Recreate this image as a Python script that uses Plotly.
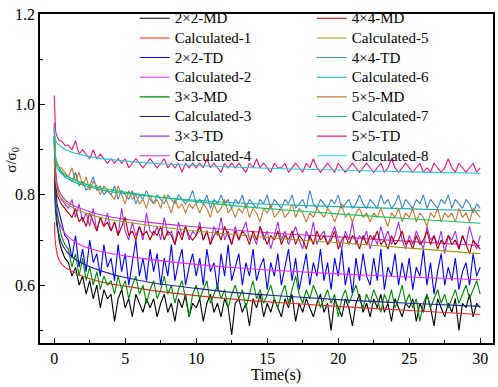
import plotly.graph_objects as go

# ---- time axis (s) ----
t_early = [0, 0.05, 0.1, 0.2, 0.35, 0.5, 0.75]
time = t_early + [1 + 0.25 * i for i in range(117)]  # 1.0 ... 30.0

# ---- measured relaxation curves (sigma/sigma0) ----
md_2x2 = [0.93, 0.86, 0.80, 0.74, 0.70, 0.68, 0.66,
          0.65, 0.62, 0.64, 0.60, 0.62, 0.58, 0.61, 0.57, 0.60, 0.55, 0.59, 0.57,
          0.58, 0.52, 0.57, 0.59, 0.55, 0.57, 0.53, 0.58, 0.56, 0.54, 0.57, 0.55,
          0.57, 0.53, 0.56, 0.58, 0.54, 0.56, 0.52, 0.57, 0.55, 0.58, 0.53, 0.56,
          0.55, 0.57, 0.52, 0.56, 0.58, 0.54, 0.56, 0.53, 0.57, 0.55, 0.49, 0.56,
          0.57, 0.54, 0.56, 0.51, 0.57, 0.55, 0.58, 0.53, 0.56, 0.54, 0.57, 0.55,
          0.53, 0.57, 0.55, 0.58, 0.52, 0.56, 0.54, 0.57, 0.55, 0.53, 0.56, 0.58,
          0.54, 0.56, 0.50, 0.57, 0.55, 0.53, 0.57, 0.55, 0.51, 0.56, 0.58, 0.54,
          0.56, 0.53, 0.57, 0.55, 0.58, 0.54, 0.56, 0.52, 0.57, 0.55, 0.53, 0.56,
          0.55, 0.57, 0.52, 0.56, 0.54, 0.58, 0.55, 0.51, 0.57, 0.55, 0.53, 0.56,
          0.54, 0.57, 0.50, 0.56, 0.55, 0.58, 0.53, 0.56, 0.55]
td_2x2 = [0.95, 0.88, 0.82, 0.78, 0.76, 0.74, 0.71,
          0.70, 0.66, 0.71, 0.64, 0.68, 0.63, 0.70, 0.65, 0.67, 0.62, 0.69, 0.64,
          0.66, 0.61, 0.69, 0.63, 0.67, 0.60, 0.65, 0.70, 0.62, 0.66, 0.61, 0.68,
          0.63, 0.67, 0.60, 0.66, 0.62, 0.69, 0.61, 0.65, 0.68, 0.60, 0.64, 0.67,
          0.62, 0.66, 0.60, 0.68, 0.63, 0.65, 0.59, 0.67, 0.62, 0.69, 0.61, 0.64,
          0.67, 0.60, 0.65, 0.62, 0.68, 0.61, 0.64, 0.66, 0.59, 0.65, 0.62, 0.67,
          0.60, 0.64, 0.68, 0.61, 0.66, 0.59, 0.63, 0.67, 0.60, 0.65, 0.62, 0.68,
          0.61, 0.65, 0.59, 0.66, 0.62, 0.68, 0.60, 0.64, 0.58, 0.66, 0.61, 0.67,
          0.62, 0.60, 0.66, 0.61, 0.68, 0.59, 0.64, 0.62, 0.67, 0.60, 0.65, 0.61,
          0.66, 0.59, 0.64, 0.62, 0.68, 0.60, 0.65, 0.58, 0.63, 0.67, 0.60, 0.64,
          0.61, 0.66, 0.59, 0.63, 0.65, 0.60, 0.67, 0.62, 0.64]
md_3x3 = [0.92, 0.85, 0.80, 0.76, 0.73, 0.71, 0.69,
          0.68, 0.64, 0.67, 0.62, 0.66, 0.61, 0.64, 0.60, 0.63, 0.59, 0.62, 0.60,
          0.61, 0.58, 0.62, 0.59, 0.61, 0.57, 0.60, 0.62, 0.58, 0.60, 0.56, 0.59,
          0.61, 0.57, 0.59, 0.62, 0.58, 0.60, 0.56, 0.59, 0.61, 0.57, 0.53, 0.58,
          0.60, 0.57, 0.59, 0.61, 0.56, 0.58, 0.60, 0.57, 0.59, 0.55, 0.58, 0.60,
          0.57, 0.59, 0.55, 0.58, 0.61, 0.57, 0.59, 0.56, 0.58, 0.60, 0.57, 0.55,
          0.58, 0.60, 0.56, 0.59, 0.62, 0.58, 0.56, 0.59, 0.57, 0.60, 0.58, 0.55,
          0.57, 0.59, 0.56, 0.58, 0.53, 0.57, 0.59, 0.56, 0.58, 0.60, 0.57, 0.55,
          0.58, 0.56, 0.59, 0.57, 0.54, 0.58, 0.56, 0.59, 0.55, 0.57, 0.60, 0.56,
          0.58, 0.55, 0.57, 0.52, 0.56, 0.58, 0.55, 0.57, 0.59, 0.56, 0.58, 0.55,
          0.57, 0.59, 0.56, 0.58, 0.60, 0.57, 0.59, 0.61, 0.58]
td_3x3 = [0.96, 0.90, 0.86, 0.82, 0.80, 0.79, 0.78,
          0.77, 0.79, 0.75, 0.78, 0.74, 0.76, 0.73, 0.77, 0.72, 0.75, 0.73, 0.76,
          0.72, 0.74, 0.71, 0.77, 0.72, 0.70, 0.74, 0.71, 0.73, 0.70, 0.76, 0.72,
          0.71, 0.73, 0.70, 0.75, 0.71, 0.72, 0.69, 0.74, 0.71, 0.73, 0.70, 0.72,
          0.71, 0.74, 0.70, 0.72, 0.69, 0.73, 0.71, 0.75, 0.70, 0.72, 0.69, 0.73,
          0.70, 0.72, 0.74, 0.70, 0.71, 0.69, 0.73, 0.70, 0.72, 0.68, 0.71, 0.74,
          0.70, 0.72, 0.69, 0.71, 0.73, 0.70, 0.68, 0.72, 0.70, 0.74, 0.69, 0.71,
          0.72, 0.69, 0.71, 0.73, 0.70, 0.68, 0.72, 0.70, 0.74, 0.69, 0.71, 0.70,
          0.72, 0.68, 0.71, 0.69, 0.73, 0.70, 0.72, 0.69, 0.71, 0.74, 0.70, 0.68,
          0.71, 0.69, 0.72, 0.70, 0.68, 0.73, 0.70, 0.71, 0.69, 0.72, 0.67, 0.71,
          0.70, 0.72, 0.68, 0.71, 0.69, 0.73, 0.70, 0.68, 0.71]
md_4x4 = [0.88, 0.84, 0.82, 0.80, 0.79, 0.78, 0.77,
          0.76, 0.75, 0.77, 0.74, 0.75, 0.73, 0.76, 0.74, 0.72, 0.75, 0.73, 0.74,
          0.72, 0.74, 0.71, 0.73, 0.75, 0.71, 0.72, 0.70, 0.73, 0.71, 0.72, 0.70,
          0.72, 0.71, 0.73, 0.70, 0.72, 0.71, 0.69, 0.72, 0.70, 0.73, 0.71, 0.70,
          0.71, 0.73, 0.70, 0.72, 0.69, 0.71, 0.72, 0.70, 0.73, 0.71, 0.69, 0.72,
          0.70, 0.72, 0.71, 0.69, 0.72, 0.70, 0.73, 0.71, 0.69, 0.71, 0.70, 0.72,
          0.69, 0.71, 0.70, 0.72, 0.69, 0.71, 0.70, 0.68, 0.71, 0.69, 0.72, 0.70,
          0.71, 0.69, 0.70, 0.72, 0.68, 0.70, 0.71, 0.69, 0.71, 0.70, 0.68, 0.71,
          0.69, 0.71, 0.70, 0.72, 0.69, 0.70, 0.68, 0.71, 0.69, 0.70, 0.72, 0.69,
          0.70, 0.68, 0.71, 0.69, 0.70, 0.72, 0.69, 0.71, 0.68, 0.70, 0.69, 0.71,
          0.69, 0.70, 0.68, 0.71, 0.69, 0.67, 0.70, 0.69, 0.68]
td_4x4 = [0.93, 0.90, 0.88, 0.87, 0.86, 0.85, 0.84,
          0.84, 0.83, 0.85, 0.82, 0.83, 0.81, 0.82, 0.84, 0.81, 0.82, 0.80, 0.81,
          0.80, 0.82, 0.79, 0.81, 0.80, 0.79, 0.81, 0.78, 0.80, 0.79, 0.81, 0.79,
          0.78, 0.80, 0.79, 0.78, 0.80, 0.79, 0.78, 0.80, 0.79, 0.78, 0.79, 0.81,
          0.78, 0.79, 0.78, 0.80, 0.77, 0.79, 0.78, 0.80, 0.78, 0.79, 0.77, 0.79,
          0.78, 0.80, 0.77, 0.79, 0.78, 0.77, 0.79, 0.78, 0.80, 0.77, 0.79, 0.78,
          0.77, 0.79, 0.78, 0.80, 0.77, 0.78, 0.79, 0.77, 0.81, 0.78, 0.77, 0.79,
          0.78, 0.77, 0.79, 0.78, 0.80, 0.77, 0.78, 0.79, 0.77, 0.78, 0.80, 0.78,
          0.77, 0.79, 0.78, 0.77, 0.80, 0.78, 0.79, 0.77, 0.78, 0.80, 0.77, 0.79,
          0.78, 0.77, 0.79, 0.78, 0.80, 0.77, 0.79, 0.78, 0.77, 0.79, 0.78, 0.80,
          0.77, 0.79, 0.78, 0.77, 0.79, 0.78, 0.76, 0.78, 0.77]
md_5x5 = [0.95, 0.90, 0.88, 0.87, 0.86, 0.86, 0.85,
          0.84, 0.86, 0.83, 0.85, 0.82, 0.84, 0.81, 0.83, 0.82, 0.80, 0.82, 0.81,
          0.80, 0.79, 0.82, 0.80, 0.78, 0.81, 0.79, 0.80, 0.78, 0.79, 0.77, 0.80,
          0.78, 0.79, 0.77, 0.80, 0.78, 0.76, 0.79, 0.77, 0.78, 0.76, 0.78, 0.77,
          0.78, 0.76, 0.78, 0.77, 0.75, 0.78, 0.76, 0.77, 0.79, 0.76, 0.77, 0.75,
          0.77, 0.76, 0.78, 0.75, 0.77, 0.76, 0.74, 0.77, 0.76, 0.78, 0.75, 0.76,
          0.77, 0.75, 0.76, 0.78, 0.75, 0.77, 0.76, 0.74, 0.76, 0.75, 0.77, 0.76,
          0.75, 0.77, 0.76, 0.74, 0.76, 0.78, 0.75, 0.76, 0.74, 0.76, 0.77, 0.75,
          0.76, 0.74, 0.76, 0.75, 0.77, 0.75, 0.73, 0.76, 0.75, 0.77, 0.74, 0.76,
          0.75, 0.77, 0.74, 0.76, 0.75, 0.73, 0.76, 0.75, 0.77, 0.74, 0.76, 0.75,
          0.76, 0.74, 0.77, 0.75, 0.76, 0.74, 0.77, 0.76, 0.75]
td_5x5 = [1.02, 0.96, 0.94, 0.93, 0.92, 0.92, 0.91,
          0.91, 0.90, 0.92, 0.89, 0.90, 0.89, 0.88, 0.90, 0.88, 0.89, 0.88, 0.87,
          0.88, 0.87, 0.88, 0.87, 0.88, 0.86, 0.87, 0.88, 0.87, 0.86, 0.87, 0.88,
          0.87, 0.86, 0.87, 0.88, 0.86, 0.87, 0.86, 0.87, 0.85, 0.87, 0.86, 0.87,
          0.86, 0.87, 0.86, 0.88, 0.86, 0.87, 0.86, 0.85, 0.87, 0.86, 0.87, 0.86,
          0.87, 0.86, 0.85, 0.87, 0.86, 0.88, 0.86, 0.87, 0.86, 0.85, 0.87, 0.86,
          0.86, 0.87, 0.85, 0.86, 0.87, 0.86, 0.85, 0.87, 0.86, 0.88, 0.86, 0.85,
          0.86, 0.87, 0.86, 0.85, 0.87, 0.86, 0.85, 0.86, 0.87, 0.86, 0.85, 0.86,
          0.87, 0.86, 0.85, 0.86, 0.87, 0.85, 0.86, 0.88, 0.86, 0.85, 0.86, 0.87,
          0.86, 0.85, 0.86, 0.87, 0.85, 0.86, 0.85, 0.87, 0.86, 0.85, 0.86, 0.88,
          0.86, 0.85, 0.87, 0.86, 0.85, 0.86, 0.87, 0.85, 0.86]

# ---- calculated (fitted) curves ----
t_calc = [0.02, 0.05, 0.1, 0.2, 0.35, 0.5, 0.75, 1, 1.5, 2, 3, 4, 5, 7, 10, 13, 16, 20, 25, 30]
calc_1 = [0.74, 0.71, 0.69, 0.67, 0.655, 0.648, 0.64, 0.635, 0.627, 0.62, 0.61, 0.603, 0.598, 0.588, 0.577, 0.568, 0.561, 0.553, 0.544, 0.535]
calc_2 = [0.86, 0.81, 0.785, 0.76, 0.74, 0.728, 0.715, 0.707, 0.695, 0.687, 0.677, 0.67, 0.665, 0.656, 0.646, 0.638, 0.632, 0.625, 0.618, 0.612]
calc_3 = [0.84, 0.79, 0.76, 0.73, 0.71, 0.695, 0.68, 0.67, 0.657, 0.648, 0.635, 0.625, 0.617, 0.605, 0.593, 0.583, 0.576, 0.568, 0.56, 0.553]
calc_4 = [0.89, 0.86, 0.84, 0.825, 0.81, 0.80, 0.79, 0.783, 0.774, 0.768, 0.758, 0.751, 0.746, 0.738, 0.729, 0.721, 0.714, 0.707, 0.697, 0.688]
calc_5 = [0.88, 0.85, 0.83, 0.815, 0.80, 0.793, 0.785, 0.778, 0.769, 0.762, 0.752, 0.745, 0.74, 0.731, 0.72, 0.711, 0.703, 0.694, 0.682, 0.670]
calc_6 = [0.93, 0.89, 0.875, 0.862, 0.853, 0.848, 0.84, 0.835, 0.827, 0.822, 0.813, 0.807, 0.803, 0.796, 0.788, 0.782, 0.778, 0.774, 0.769, 0.765]
calc_7 = [0.93, 0.90, 0.885, 0.87, 0.86, 0.853, 0.845, 0.84, 0.832, 0.826, 0.817, 0.811, 0.806, 0.797, 0.785, 0.775, 0.767, 0.758, 0.747, 0.737]
calc_8 = [0.95, 0.93, 0.922, 0.915, 0.91, 0.906, 0.901, 0.897, 0.892, 0.888, 0.882, 0.878, 0.875, 0.87, 0.865, 0.861, 0.858, 0.855, 0.851, 0.848]

FONT = "Liberation Serif"

series = [
    # name, x, y, color, legend, smooth
    ("2×2-MD", time, md_2x2, "#000000", "legend", False),
    ("Calculated-1", t_calc, calc_1, "#FF2424", "legend", True),
    ("2×2-TD", time, td_2x2, "#0000FF", "legend", False),
    ("Calculated-2", t_calc, calc_2, "#FF22FF", "legend", True),
    ("3×3-MD", time, md_3x3, "#008A00", "legend", False),
    ("Calculated-3", t_calc, calc_3, "#22229A", "legend", True),
    ("3×3-TD", time, td_3x3, "#A030F5", "legend", False),
    ("Calculated-4", t_calc, calc_4, "#C832C8", "legend", True),
    ("4×4-MD", time, md_4x4, "#B00000", "legend2", False),
    ("Calculated-5", t_calc, calc_5, "#9A9A10", "legend2", True),
    ("4×4-TD", time, td_4x4, "#3A86C8", "legend2", False),
    ("Calculated-6", t_calc, calc_6, "#12B0A8", "legend2", True),
    ("5×5-MD", time, md_5x5, "#C47A34", "legend2", False),
    ("Calculated-7", t_calc, calc_7, "#10C864", "legend2", True),
    ("5×5-TD", time, td_5x5, "#EE1480", "legend2", False),
    ("Calculated-8", t_calc, calc_8, "#1CCFD2", "legend2", True),
]

fig = go.Figure()
for name, xs, ys, col, leg, smooth in series:
    fig.add_trace(go.Scatter(
        x=xs, y=ys, mode="lines", legend=leg,
        name='<span style="font-size:15px">%s</span>' % name,
        line=dict(color=col, width=1.1, shape="spline" if smooth else "linear"),
    ))

legend_common = dict(
    xanchor="left", yanchor="top", bgcolor="rgba(0,0,0,0)",
    font=dict(family=FONT, size=12.8, color="black"),
    tracegroupgap=0, itemwidth=30,
)

fig.update_layout(
    width=498, height=387,
    margin=dict(l=40, r=3, t=7, b=44),
    paper_bgcolor="white", plot_bgcolor="white",
    font=dict(family=FONT, size=16, color="black"),
    showlegend=True,
    legend=dict(x=0.209, y=1.032, **legend_common),
    legend2=dict(x=0.600, y=1.032, **legend_common),
    xaxis=dict(
        range=[-1.0, 30.9], tickmode="linear", tick0=0, dtick=5,
        ticks="inside", ticklen=5, tickwidth=1.2, tickcolor="black",
        minor=dict(ticks="inside", ticklen=3, dtick=2.5, tickcolor="black", tickwidth=1),
        showline=True, linecolor="black", linewidth=1.5, mirror=True,
        showgrid=False, zeroline=False,
        tickfont=dict(family=FONT, size=16, color="black"),
    ),
    yaxis=dict(
        range=[0.472, 1.2005], tickmode="linear", tick0=0, dtick=0.2, tickformat=".1f",
        ticks="inside", ticklen=5, tickwidth=1.2, tickcolor="black",
        minor=dict(ticks="inside", ticklen=3, dtick=0.1, tickcolor="black", tickwidth=1),
        showline=True, linecolor="black", linewidth=1.5, mirror=True,
        showgrid=False, zeroline=False,
        tickfont=dict(family=FONT, size=16, color="black"),
    ),
    annotations=[
        dict(text="Time(s)", xref="paper", yref="paper", x=0.521, y=-0.096,
             xanchor="center", yanchor="middle", showarrow=False,
             font=dict(family=FONT, size=16, color="black")),
        dict(text="σ/σ<sub>0</sub>", xref="paper", yref="paper", x=-0.062, y=0.557,
             xanchor="center", yanchor="middle", textangle=-90, showarrow=False,
             font=dict(family=FONT, size=15, color="black")),
    ],
)

fig.write_html("out.html", config={"displayModeBar": False},
               post_script="document.body.style.margin='0';document.body.style.overflow='hidden';")
